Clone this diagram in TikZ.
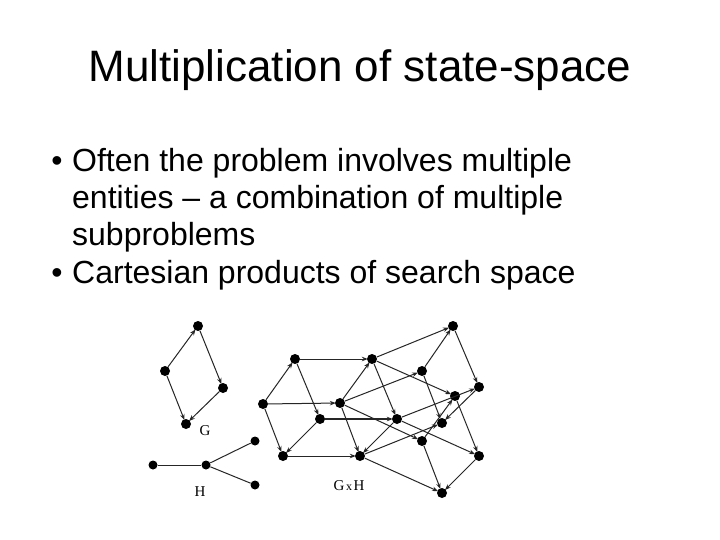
\documentclass[tikz,border=0pt]{standalone}
\usepackage{fontspec}
\setmainfont{Liberation Sans}
\newfontfamily\serifl{Liberation Serif}
\usetikzlibrary{arrows.meta}
\begin{document}
\begin{tikzpicture}[x=1pt,y=-1pt,
  dot/.style={circle,fill=black,inner sep=0pt,minimum size=10pt},
  sdot/.style={circle,fill=black,inner sep=0pt,minimum size=9pt},
  edge/.style={draw=black!85,line width=1pt,-{Stealth[length=6pt,width=4.5pt]},shorten >=-1pt},
  plain/.style={draw=black!85,line width=1pt},
  thickedge/.style={edge,line width=1.8pt},
  lbl/.style={inner sep=0pt,font=\serifl\fontsize{15}{17}\selectfont},
  txt/.style={anchor=base west,inner sep=0pt,font=\fontsize{32}{38}\selectfont},
  bul/.style={anchor=base,inner sep=0pt,font=\fontsize{32}{38}\selectfont}]
\useasboundingbox[fill=white] (0,0) rectangle (720,540);

% title
\node[anchor=base,inner sep=0pt,font=\fontsize{44}{52}\selectfont] (title) at (360,82) {Multiplication of state-space};

% bullets
\node[bul] (b1) at (57,172) {•};
\node[txt] (t1) at (72,172) {Often the problem involves multiple};
\node[txt] (t2) at (72,209) {entities – a combination of multiple};
\node[txt] (t3) at (72,245) {subproblems};
\node[bul] (b2) at (57,283) {•};
\node[txt] (t4) at (72,283) {Cartesian products of search space};

% G
\node[dot] (ga) at (198,326) {};
\node[dot] (gb) at (165,371) {};
\node[dot] (gc) at (223,388) {};
\node[dot] (gd) at (186,424) {};
\draw[edge] (gb) -- (ga);
\draw[edge] (ga) -- (gc);
\draw[edge] (gb) -- (gd);
\draw[edge] (gc) -- (gd);
\node[lbl] (gl) at (205,431) {G};

% H
\node[sdot] (h1) at (153,465) {};
\node[sdot] (h2) at (206,465) {};
\node[sdot] (h3) at (255,441) {};
\node[sdot] (h4) at (255,485) {};
\draw[plain] (h1) -- (h2);
\draw[plain] (h2) -- (h3);
\draw[plain] (h2) -- (h4);
\node[lbl] (hl) at (200,492) {H};

% G x H
\node[dot] (a1) at (295,359) {};
\node[dot] (b1n) at (263,404) {};
\node[dot] (c1) at (320,419) {};
\node[dot] (d1) at (283,456) {};
\node[dot] (a2) at (372,359) {};
\node[dot] (b2n) at (340,403) {};
\node[dot] (c2) at (397,419) {};
\node[dot] (d2) at (360,456) {};
\node[dot] (a3) at (453,326) {};
\node[dot] (b3) at (422,371) {};
\node[dot] (c3) at (479,387) {};
\node[dot] (d3) at (442,423) {};
\node[dot] (a4) at (455,396) {};
\node[dot] (b4) at (422,441) {};
\node[dot] (c4) at (479,456) {};
\node[dot] (d4) at (442,493) {};

% within copies
\draw[edge] (b1n) -- (a1); \draw[edge] (a1) -- (c1); \draw[edge] (b1n) -- (d1); \draw[edge] (c1) -- (d1);
\draw[edge] (b2n) -- (a2); \draw[edge] (a2) -- (c2); \draw[edge] (b2n) -- (d2); \draw[edge] (c2) -- (d2);
\draw[edge] (b3) -- (a3); \draw[edge] (a3) -- (c3); \draw[edge] (b3) -- (d3); \draw[edge] (c3) -- (d3);
\draw[edge] (b4) -- (a4); \draw[edge] (a4) -- (c4); \draw[edge] (b4) -- (d4); \draw[edge] (c4) -- (d4);

% between copies
\draw[edge] (a1) -- (a2); \draw[edge] (b1n) -- (b2n); \draw[thickedge] (c1) -- (c2); \draw[edge] (d1) -- (d2);
\draw[edge] (a2) -- (a3); \draw[edge] (b2n) -- (b3); \draw[edge] (c2) -- (c3); \draw[edge] (d2) -- (d3);
\draw[edge] (a2) -- (a4); \draw[edge] (b2n) -- (b4); \draw[edge] (c2) -- (c4); \draw[edge] (d2) -- (d4);

\node[lbl] (gxh) at (349,486) {G{\kern1.5pt}{\fontsize{12}{14}\selectfont x}{\kern1.5pt}H};
\end{tikzpicture}
\end{document}
